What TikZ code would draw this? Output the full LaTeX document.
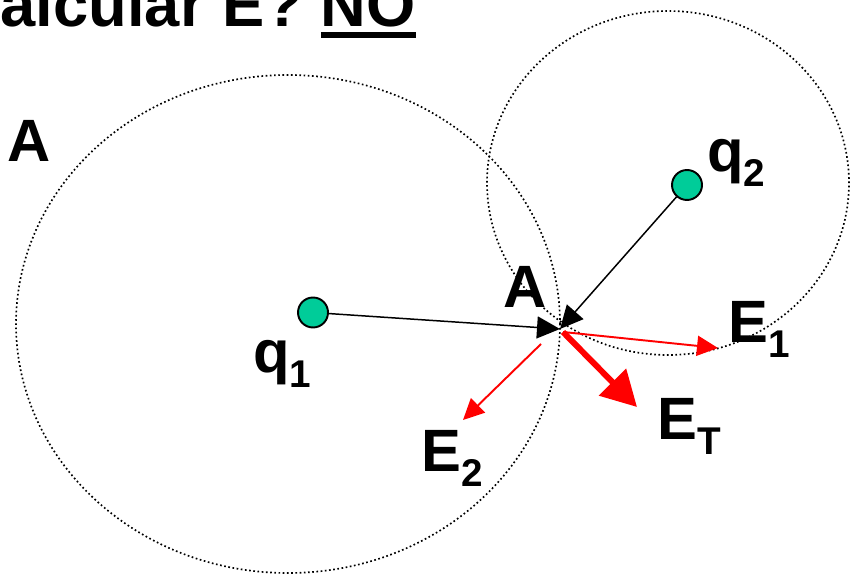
\documentclass[tikz,border=0pt]{standalone}
\usepackage{fontspec}
\setmainfont{Liberation Sans}
\usetikzlibrary{arrows.meta, positioning}
\definecolor{chargegreen}{RGB}{0,204,153}
\newcommand{\lowidx}[1]{\raisebox{-0.24em}{\fontsize{22}{26}\selectfont #1}}
\newcommand{\barunder}[1]{\setbox0=\hbox{#1}\rlap{\rule[-0.17em]{\wd0}{0.095em}}\box0}

\begin{document}
\begin{tikzpicture}[
		label/.style={
			font=\fontsize{34}{40}\selectfont\bfseries,
			inner sep=0pt,
			anchor=base west
		},
		charge/.style={
			circle,
			draw=black,
			line width=1.1pt,
			fill=chargegreen,
			minimum size=0.6cm,
			inner sep=0pt
		},
		orbit/.style={black, line width=0.95pt, dash pattern=on 0.95pt off 1.45pt},
		pull/.style={-{Triangle[length=0.46cm, width=0.44cm]}, line width=0.85pt, black},
		field/.style={-{Triangle[length=0.42cm, width=0.4cm]}, line width=1.1pt, red},
		total/.style={-{Triangle[length=0.7cm, width=0.74cm]}, line width=3.4pt, red}]

		\useasboundingbox (0,0) rectangle (17.18,-11.56);

		% equipotential surfaces
		\draw [orbit] (5.76,-6.48) ellipse [x radius=5.44cm, y radius=4.98cm];
		\draw [orbit] (13.36,-3.66) ellipse [x radius=3.62cm, y radius=3.44cm];

		\node [anchor=base east, inner sep=0pt, font=\fontsize{36}{40}\selectfont\bfseries] (title) at (8.32,-0.54) {calcular E? \barunder{NO}};

		\node [charge] (q1) at (6.26,-6.25) {};
		\node [charge] (q2) at (13.74,-3.70) {};
		\coordinate (pA) at (11.2,-6.58);
		\coordinate (e1start) at (11.26,-6.64);
		\coordinate (e1tip) at (14.36,-6.96);
		\coordinate (ettip) at (12.74,-8.14);
		\coordinate (e2start) at (10.82,-6.88);
		\coordinate (e2tip) at (9.26,-8.40);

		\draw [pull] (q1) -- (pA);
		\draw [pull] (q2) -- (pA);
		\draw [field] (e1start) -- (e1tip);
		\draw [field] (e2start) -- (e2tip);
		\draw [total] (e1start) -- (ettip);

		\node [label] (aleft) at (0.14,-3.24) {A};
		\node [label] (acenter) at (10.06,-6.16) {A};
		\node [label] (lq1) at (5.06,-7.46) {q\lowidx{1}};
		\node [label] (lq2) at (14.14,-3.44) {q\lowidx{2}};
		\node [label] (le1) at (14.56,-6.86) {E\lowidx{1}};
		\node [label] (let) at (13.14,-8.80) {E\lowidx{T}};
		\node [label] (le2) at (8.42,-9.44) {E\lowidx{2}};
	\end{tikzpicture}
\end{document}
